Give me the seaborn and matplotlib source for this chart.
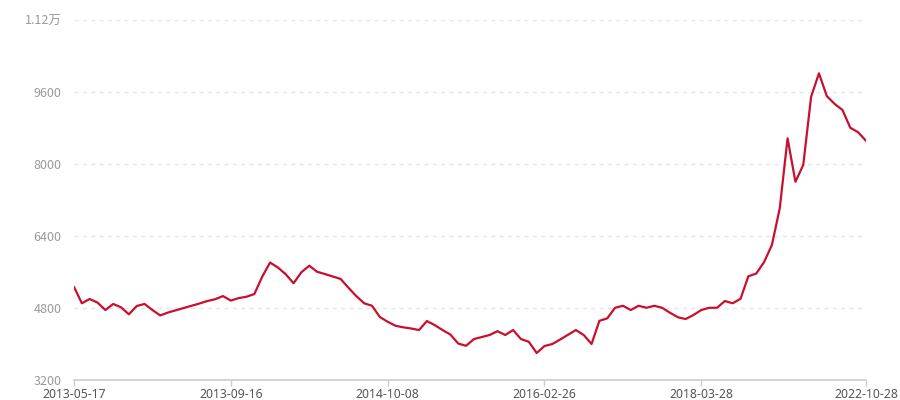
import matplotlib
matplotlib.use("Agg")
import matplotlib.pyplot as plt
import matplotlib.ticker as mticker
import seaborn as sns
import pandas as pd

# ---- data ----
values = [
    5270, 4905, 5000, 4920, 4755, 4890, 4815, 4660, 4845, 4890,
    4755, 4635, 4700, 4750, 4800, 4850, 4900, 4955, 4995, 5065,
    4965, 5020, 5050, 5110, 5495, 5810, 5700, 5550, 5350, 5595,
    5740, 5605, 5555, 5500, 5445, 5250, 5065, 4905, 4850, 4600,
    4495, 4405, 4370, 4345, 4310, 4510, 4420, 4310, 4210, 4010,
    3960, 4110, 4155, 4200, 4285, 4200, 4310, 4110, 4050, 3800,
    3955, 4000, 4100, 4205, 4310, 4200, 4000, 4515, 4570, 4805,
    4850, 4755, 4850, 4805, 4850, 4805, 4695, 4595, 4555, 4645,
    4755, 4805, 4805, 4955, 4905, 5005, 5505, 5565, 5820, 6200,
    7015, 8570, 7605, 7980, 9495, 10015, 9510, 9335, 9200, 8805,
    8705, 8515,
]
tick_labels = ["2013-05-17", "2013-09-16", "2014-10-08", "2016-02-26", "2018-03-28", "2022-10-28"]
tick_index = [0, 20, 40, 60, 80, 101]
y_ticks = [3200, 4800, 6400, 8000, 9600, 11200]

df = pd.DataFrame({"idx": range(len(values)), "value": values})

sns.set_style("white")
plt.rcParams["font.family"] = ["Noto Sans CJK SC", "DejaVu Sans"]

fig = plt.figure(figsize=(9, 4), dpi=100)
# axes bottom at y=380px -> 0.05 ; top at 20px -> 0.95
ax = fig.add_axes([74 / 900, 0.05, (866 - 74) / 900, 0.90])

sns.lineplot(data=df, x="idx", y="value", ax=ax, color="#c8102e", linewidth=1.6)

ax.set_xlim(0, len(values) - 1)
ax.set_ylim(y_ticks[0], y_ticks[-1])
ax.set_xlabel("")
ax.set_ylabel("")

ax.set_xticks(tick_index)
ax.set_xticklabels(tick_labels, family=["Noto Sans", "DejaVu Sans"])
ax.set_yticks(y_ticks)


def fmt(v, pos):
    if v >= 10000:
        return f"{v / 10000:g}万"
    return f"{int(v)}"


ax.yaxis.set_major_formatter(mticker.FuncFormatter(fmt))

for y in y_ticks[1:]:
    ax.axhline(y, color="#e6e6e6", linewidth=1.0, linestyle=(0, (3, 3)), zorder=0)

for s in ["top", "right", "left"]:
    ax.spines[s].set_visible(False)
ax.spines["bottom"].set_color("#cccccc")
ax.spines["bottom"].set_linewidth(1.2)

ax.tick_params(axis="x", which="major", length=4, width=1, color="#cccccc",
               labelsize=8.8, labelcolor="#555555", pad=1.5, direction="out", bottom=True)
ax.tick_params(axis="y", which="major", length=0, labelsize=9, labelcolor="#999999", pad=9)
ax.grid(False)

fig.savefig("out.png", dpi=100, facecolor="white")
